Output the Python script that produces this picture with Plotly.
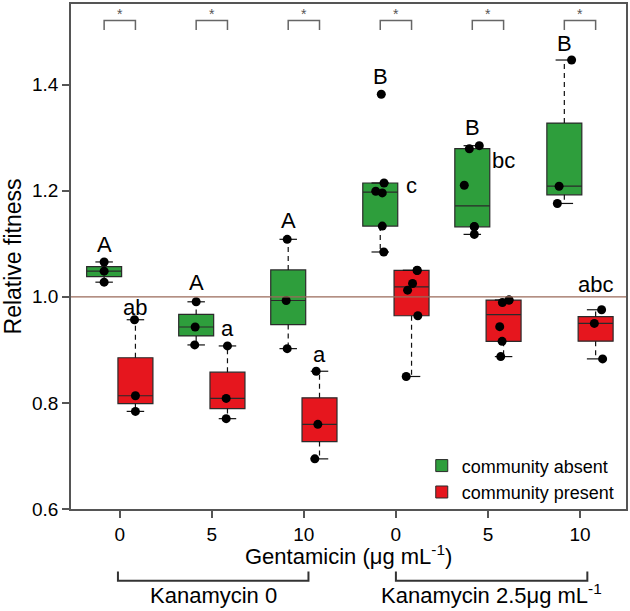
import numpy as np
import plotly.graph_objects as go

# ---------------- data ----------------
gentamicin_ticks = ["0", "5", "10", "0", "5", "10"]
kanamycin_labels = ["Kanamycin 0", "Kanamycin 2.5μg mL<sup>-1</sup>"]
x_title = "Gentamicin (μg mL<sup>-1</sup>)"
y_title = "Relative fitness"
series_names = ["community absent", "community present"]

absent_values = [
    [1.0276, 1.0483, 1.0657],
    [0.9093, 0.9431, 0.9906],
    [0.9023, 0.9931, 1.1084],
    [1.0845, 1.1333, 1.1959, 1.1991, 1.2146, 1.3818],
    [1.1177, 1.1320, 1.1324, 1.2103, 1.2792, 1.2849],
    [1.1760, 1.2085, 1.4464],
]
present_values = [
    [0.7840, 0.8135, 0.9568],
    [0.7703, 0.8085, 0.9074],
    [0.6945, 0.7596, 0.8597],
    [0.8498, 0.9643, 1.0126, 1.0250, 1.0497, 1.0501],
    [0.8873, 0.9161, 0.9437, 0.9893, 0.9938, 0.9940],
    [0.8830, 0.9499, 0.9756],
]
# horizontal jitter of the points (x units)
absent_jitter = [
    [0, 0, 0],
    [-0.016, -0.011, 0],
    [-0.011, -0.022, -0.011],
    [0.038, 0.022, 0.022, -0.049, 0.041, 0.011],
    [0.022, 0.022, 0.022, -0.087, -0.032, 0.076],
    [-0.076, -0.057, 0.079],
]
present_jitter = [
    [0, 0, -0.01],
    [-0.014, -0.014, 0],
    [-0.051, -0.018, -0.036],
    [-0.058, 0.068, -0.043, 0.011, 0.061, 0.061],
    [-0.031, -0.016, -0.042, -0.013, 0.059, 0.059],
    [0.076, -0.014, 0.065],
]
absent_letters = ["A", "A", "A", "B", "B", "B"]
present_letters = ["ab", "a", "a", "c", "bc", "abc"]
absent_letter_y = [1.099, 1.027, 1.143, 1.415, 1.320, 1.477]
present_letter_y = [0.980, 0.941, 0.892, 1.210, 1.257, 1.024]
significance = ["*", "*", "*", "*", "*", "*"]
reference_value = 1.0

# ---------------- style ----------------
GREEN = "#2e9e3c"
RED = "#e6161e"
EDGE = "#2a2a2a"
AXIS = "#555555"
FONT = "Liberation Sans, Arial, Helvetica, sans-serif"
OFFSET = 0.17
BOX_W = 0.38
CAP_HALF = BOX_W / 4

groups = np.arange(1, len(gentamicin_ticks) + 1)


def fivenum(v):
    x = sorted(v)
    n = len(x)
    n4 = np.floor((n + 3) / 2) / 2
    d = [1, n4, (n + 1) / 2, n + 1 - n4, n]
    return [0.5 * (x[int(np.floor(i)) - 1] + x[int(np.ceil(i)) - 1]) for i in d]


def stats(values):
    out = []
    for v in values:
        mn, q1, med, q3, mx = fivenum(v)
        iqr = q3 - q1
        lo = min(a for a in v if a >= q1 - 1.5 * iqr)
        hi = max(a for a in v if a <= q3 + 1.5 * iqr)
        out.append((q1, med, q3, lo, hi))
    return out


fig = go.Figure()

for values, jitter, color, sign, name in [
    (absent_values, absent_jitter, GREEN, -1, series_names[0]),
    (present_values, present_jitter, RED, 1, series_names[1]),
]:
    centers = groups + sign * OFFSET
    st = stats(values)
    q1 = [s[0] for s in st]
    med = [s[1] for s in st]
    q3 = [s[2] for s in st]
    fig.add_trace(go.Box(
        x=centers, q1=q1, median=med, q3=q3, lowerfence=q1, upperfence=q3,
        width=BOX_W, fillcolor=color, line=dict(color=EDGE, width=1.2),
        whiskerwidth=0, boxpoints=False, showlegend=False, hoverinfo="skip",
    ))
    # dashed whiskers and solid caps
    wx, wy, cx, cy = [], [], [], []
    for c, s in zip(centers, st):
        wx += [c, c, None, c, c, None]
        wy += [s[2], s[4], None, s[0], s[3], None]
        cx += [c - CAP_HALF, c + CAP_HALF, None, c - CAP_HALF, c + CAP_HALF, None]
        cy += [s[4], s[4], None, s[3], s[3], None]
    fig.add_trace(go.Scatter(x=wx, y=wy, mode="lines",
                             line=dict(color="#111111", width=1.2, dash="5px,4px"),
                             showlegend=False, hoverinfo="skip"))
    fig.add_trace(go.Scatter(x=cx, y=cy, mode="lines",
                             line=dict(color="#111111", width=1.2),
                             showlegend=False, hoverinfo="skip"))
    # legend entry
    fig.add_trace(go.Scatter(x=[None], y=[None], mode="markers", name=name,
                             marker=dict(symbol="square", size=12, color=color,
                                         line=dict(color=EDGE, width=1))))

# reference line at 1.0
fig.add_shape(type="line", xref="paper", x0=0, x1=1, yref="y",
              y0=reference_value, y1=reference_value,
              line=dict(color="#9a6a5a", width=1.3), layer="above")

# jittered points
for values, jitter, sign in [(absent_values, absent_jitter, -1),
                             (present_values, present_jitter, 1)]:
    px, py = [], []
    for g, v, j in zip(groups, values, jitter):
        for val, jj in zip(v, j):
            px.append(g + sign * OFFSET + jj)
            py.append(val)
    fig.add_trace(go.Scatter(x=px, y=py, mode="markers",
                             marker=dict(color="black", size=9),
                             showlegend=False, hoverinfo="skip"))

# significance brackets at top
BR_TOP, BR_LEG = 1.521, 1.503
bx, by = [], []
for g in groups:
    bx += [g - OFFSET, g - OFFSET, g + OFFSET, g + OFFSET, None]
    by += [BR_LEG, BR_TOP, BR_TOP, BR_LEG, None]
fig.add_trace(go.Scatter(x=bx, y=by, mode="lines", line=dict(color="#666666", width=1.5),
                         showlegend=False, hoverinfo="skip", cliponaxis=False))

annotations = []
for g, s in zip(groups, significance):
    annotations.append(dict(x=g, y=1.533, xref="x", yref="y", text=s, showarrow=False,
                            font=dict(size=14, color="#555555", family=FONT),
                            yanchor="middle"))
for g, t, y in zip(groups, absent_letters, absent_letter_y):
    annotations.append(dict(x=g - OFFSET, y=y, xref="x", yref="y", text=t, showarrow=False,
                            font=dict(size=22, color="black", family=FONT), yanchor="middle"))
for g, t, y in zip(groups, present_letters, present_letter_y):
    annotations.append(dict(x=g + OFFSET, y=y, xref="x", yref="y", text=t, showarrow=False,
                            font=dict(size=22, color="black", family=FONT), yanchor="middle"))

# x axis title (placed as annotation so it sits close to the tick labels)
annotations.append(dict(x=0.5, y=-0.1213, xref="paper", yref="paper", text=x_title,
                        showarrow=False, yanchor="bottom", xanchor="center", borderpad=0,
                        font=dict(size=22, color="black", family=FONT)))

# kanamycin group brackets below the axis
kan_spans = [(0.98, 3.05), (4.0, 6.08)]
for (a, b), lab in zip(kan_spans, kanamycin_labels):
    fig.add_shape(type="path", xref="x", yref="paper",
                  path=f"M {a},-0.1237 L {a},-0.142 L {b},-0.142 L {b},-0.1237",
                  line=dict(color="#333333", width=2))
    annotations.append(dict(x=(a + b) / 2, y=-0.1992, xref="x", yref="paper", text=lab,
                            showarrow=False, yanchor="bottom",
                            font=dict(size=22, color="black", family=FONT)))

fig.update_layout(
    width=630, height=611,
    margin=dict(l=71, r=2, t=2, b=102),
    paper_bgcolor="white", plot_bgcolor="white",
    boxmode="overlay",
    font=dict(family=FONT, color="black", size=19),
    annotations=annotations,
    legend=dict(x=0.632, y=0.122, xanchor="left", yanchor="top",
                bgcolor="rgba(0,0,0,0)", font=dict(size=18, family=FONT),
                itemsizing="trace", tracegroupgap=0),
    xaxis=dict(range=[0.47, 6.5], tickmode="array", tickvals=groups, ticktext=gentamicin_ticks,
               showgrid=False, zeroline=False, showline=True, linecolor=AXIS, linewidth=1.5,
               mirror=True, ticks="outside", ticklen=7, tickcolor=AXIS, tickwidth=1.5,
               tickfont=dict(size=19)),
    yaxis=dict(range=[0.6, 1.552], tickmode="array", tickvals=[0.6, 0.8, 1.0, 1.2, 1.4],
               ticktext=["0.6", "0.8", "1.0", "1.2", "1.4"],
               showgrid=False, zeroline=False, showline=True, linecolor=AXIS, linewidth=1.5,
               mirror=True, ticks="outside", ticklen=7, tickcolor=AXIS, tickwidth=1.5,
               tickfont=dict(size=19),
               title=dict(text=y_title, font=dict(size=23), standoff=10)),
)

fig.write_html("out.html", config={"displayModeBar": False},
               post_script="document.body.style.margin='0px';")
